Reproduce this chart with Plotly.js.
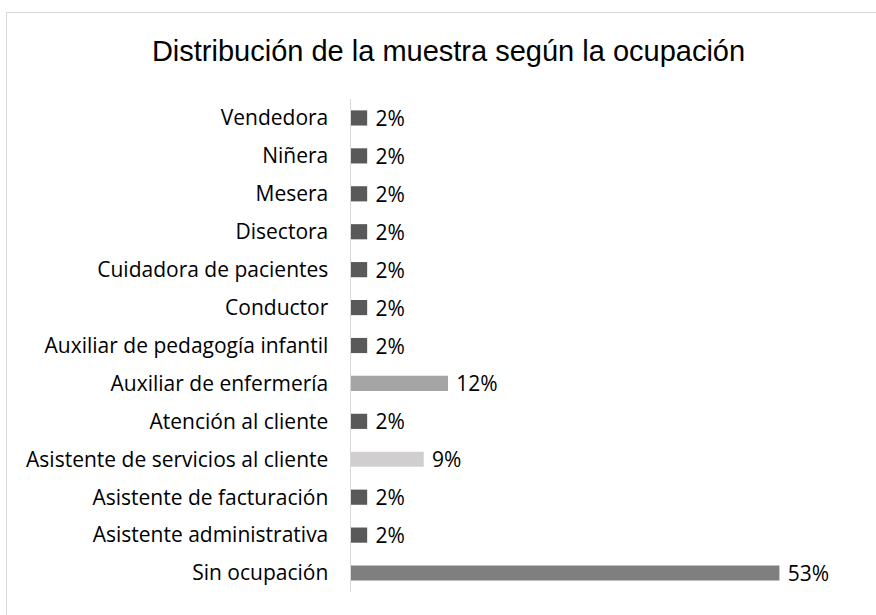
<!DOCTYPE html>
<html>
<head>
<meta charset="utf-8">
<script src="https://cdn.plot.ly/plotly-3.0.1.min.js"></script>
<style>
  html, body { margin: 0; padding: 0; background: #fff; }
  #wrap { position: relative; width: 876px; height: 615px; overflow: hidden; }
  #chart { position: absolute; left: 0; top: 0; width: 876px; height: 615px; }
  #frame { position: absolute; left: 6px; top: 12px; width: 900px; height: 640px;
           border: 1.5px solid #d9d9d9; pointer-events: none; box-sizing: border-box; }
</style>
</head>
<body>
<div id="wrap">
  <div id="chart"></div>
  <div id="frame"></div>
</div>
<script>
// Categories listed bottom to top
const categories = [
  "Sin ocupación",
  "Asistente administrativa",
  "Asistente de facturación",
  "Asistente de servicios al cliente",
  "Atención al cliente",
  "Auxiliar de enfermería",
  "Auxiliar de pedagogía infantil",
  "Conductor",
  "Cuidadora de pacientes",
  "Disectora",
  "Mesera",
  "Niñera",
  "Vendedora"
];
const percentages = [53, 2, 2, 9, 2, 12, 2, 2, 2, 2, 2, 2, 2];
const labels = ["53%", "2%", "2%", "9%", "2%", "12%", "2%", "2%", "2%", "2%", "2%", "2%", "2%"];
const barColors = ["#7f7f7f", "#595959", "#595959", "#d0cece", "#595959", "#a5a5a5",
                   "#595959", "#595959", "#595959", "#595959", "#595959", "#595959", "#595959"];

const labelFont = "'Open Sans', Lato, sans-serif";

const trace = {
  type: "bar",
  orientation: "h",
  y: categories,
  x: percentages,
  text: labels.map(t => "\u2005" + t),
  textposition: "outside",
  constraintext: "none",
  cliponaxis: false,
  textfont: { family: labelFont, size: 21, color: "#000" },
  marker: { color: barColors },
  width: 0.4,
  hoverinfo: "skip"
};

const layout = {
  width: 876,
  height: 615,
  paper_bgcolor: "#ffffff",
  plot_bgcolor: "#ffffff",
  margin: { l: 351, r: 40, t: 99, b: 23, pad: 0 },
  title: {
    text: "Distribución de la muestra según la ocupación",
    font: { family: "'Liberation Sans', Arial, sans-serif", size: 29, color: "#000" },
    x: 0.512, xref: "container", xanchor: "center",
    y: 0.917, yref: "container", yanchor: "middle"
  },
  xaxis: {
    range: [0, 60],
    showgrid: false,
    zeroline: false,
    showline: false,
    showticklabels: false,
    ticks: "",
    fixedrange: true
  },
  yaxis: {
    type: "category",
    categoryorder: "array",
    categoryarray: categories,
    showgrid: false,
    zeroline: false,
    showline: true,
    linecolor: "#d9d9d9",
    linewidth: 1.5,
    ticks: "",
    ticklabelstandoff: 17,
    tickfont: { family: labelFont, size: 21, color: "#000" },
    fixedrange: true
  },
  showlegend: false
};

Plotly.newPlot("chart", [trace], layout, { displayModeBar: false, staticPlot: true });
</script>
</body>
</html>
